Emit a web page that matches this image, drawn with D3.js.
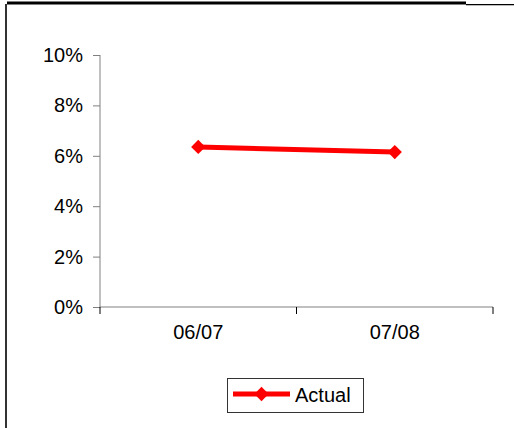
<!DOCTYPE html>
<html><head><meta charset="utf-8">
<script src="https://cdn.jsdelivr.net/npm/d3@7"></script>
<style>body{margin:0;background:#fff}svg{display:block}text{font-family:"Liberation Sans",Arial,sans-serif;fill:#000}</style>
</head><body>
<script>
const categories = ["06/07", "07/08"];
const actual = [6.35, 6.15];
const yTicks = [0, 2, 4, 6, 8, 10];
const seriesName = "Actual";

const W = 514, H = 428;
const svg = d3.select("body").append("svg").attr("width", W).attr("height", H);

// frame
svg.append("line").attr("x1", 7).attr("x2", 466).attr("y1", 3).attr("y2", 3).attr("stroke", "#000").attr("stroke-width", 3);
svg.append("line").attr("x1", 466).attr("x2", 514).attr("y1", 4.5).attr("y2", 4.5).attr("stroke", "#000").attr("stroke-width", 1);
svg.append("line").attr("x1", 466).attr("x2", 514).attr("y1", 5.5).attr("y2", 5.5).attr("stroke", "#bbb").attr("stroke-width", 1);
svg.append("line").attr("x1", 6).attr("x2", 6).attr("y1", 4).attr("y2", H).attr("stroke", "#333").attr("stroke-width", 2);

const mLeft = 100, mRight = 493, mTop = 55, mBottom = 307;
const y = d3.scaleLinear().domain([0, 10]).range([mBottom, mTop]);
const x = d3.scaleBand().domain(categories).range([mLeft, mRight]);

const yAxis = svg.append("g").attr("transform", `translate(${mLeft},0)`)
  .call(d3.axisLeft(y).tickValues(yTicks).tickSize(7).tickPadding(10).tickFormat(d => d + "%"));
yAxis.select(".domain").attr("stroke", "#808080").attr("d", `M-0,${mTop}V${mBottom}`);
yAxis.selectAll(".tick line").attr("stroke", "#808080");
yAxis.selectAll("text").attr("font-size", 20).attr("font-family", "Liberation Sans, Arial, sans-serif").attr("fill", "#000");

const xAxis = svg.append("g").attr("transform", `translate(0,${mBottom})`)
  .call(d3.axisBottom(x).tickSize(0).tickPadding(18));
xAxis.select(".domain").attr("stroke", "#808080").attr("d", `M${mLeft},0H${mRight}`);
xAxis.selectAll("text").attr("font-size", 20).attr("font-family", "Liberation Sans, Arial, sans-serif").attr("fill", "#000");
// category boundary ticks
const bounds = [mLeft].concat(categories.map(c => x(c) + x.bandwidth()));
xAxis.selectAll(".btick").data(bounds).enter().append("line").attr("class", "btick")
  .attr("x1", d => d).attr("x2", d => d).attr("y1", 0).attr("y2", 7).attr("stroke", "#000");

const pts = categories.map((c, i) => [x(c) + x.bandwidth() / 2, y(actual[i])]);
svg.append("path").attr("d", d3.line()(pts)).attr("fill", "none").attr("stroke", "#ff0000").attr("stroke-width", 5);
const diamond = d3.symbol().type(d3.symbolDiamond2).size(130);
svg.selectAll(".pt").data(pts).enter().append("path")
  .attr("transform", d => `translate(${d[0]},${d[1]})`).attr("d", diamond).attr("fill", "#ff0000");

// legend
const lg = svg.append("g");
lg.append("rect").attr("x", 227.5).attr("y", 378.5).attr("width", 136).attr("height", 34).attr("fill", "#fff").attr("stroke", "#333").attr("stroke-width", 1);
lg.append("line").attr("x1", 233).attr("x2", 290).attr("y1", 394).attr("y2", 394).attr("stroke", "#ff0000").attr("stroke-width", 5);
lg.append("path").attr("transform", "translate(261.5,394)").attr("d", diamond).attr("fill", "#ff0000");
lg.append("text").attr("x", 295).attr("y", 402).attr("font-size", 20).text(seriesName);
</script>
</body></html>
